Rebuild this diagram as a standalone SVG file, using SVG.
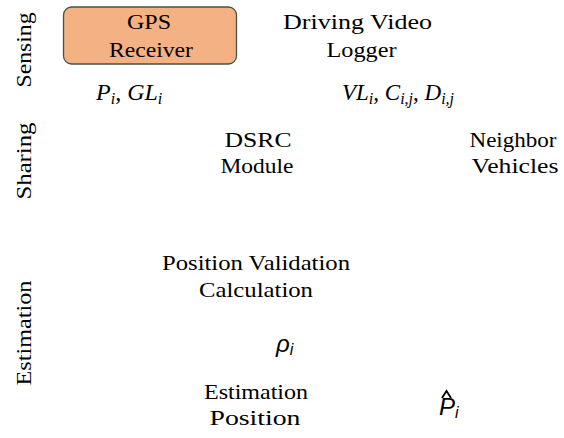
<svg xmlns="http://www.w3.org/2000/svg" width="564" height="438" viewBox="0 0 564 438" font-family="'Liberation Serif', 'Times New Roman', Times, serif">
  <style>
    text { font-family: 'Liberation Serif', 'Times New Roman', Times, serif; }
    .lbl { font-size: 21.5px; fill: #000; text-anchor: middle; }
    .math { font-style: italic; fill: #000; }
    .sub { font-size: 16px; }
    .smath { font-family: 'Liberation Sans', Arial, sans-serif; font-size: 24px; font-style: italic; fill: #000; }
    .box { fill: #F4B183; stroke: #3b5a46; stroke-width: 1.3; }
  </style>
  <rect width="564" height="438" fill="#fff"/>

  <g id="lane-labels">
    <text class="lbl" transform="translate(31,50) rotate(-90)" textLength="75" lengthAdjust="spacingAndGlyphs">Sensing</text>
    <text class="lbl" transform="translate(31,161) rotate(-90)" textLength="77" lengthAdjust="spacingAndGlyphs">Sharing</text>
    <text class="lbl" transform="translate(31,333) rotate(-90)" textLength="105" lengthAdjust="spacingAndGlyphs">Estimation</text>
  </g>

  <g id="connectors"></g>

  <g id="gps-receiver">
    <rect class="box" x="63.5" y="7" width="173" height="57" rx="8"/>
    <text class="lbl" x="149" y="29" textLength="44" lengthAdjust="spacingAndGlyphs">GPS</text>
    <text class="lbl" x="151" y="57" textLength="84" lengthAdjust="spacingAndGlyphs">Receiver</text>
  </g>

  <g id="video-logger">
    <text class="lbl" x="357.5" y="29" textLength="149" lengthAdjust="spacingAndGlyphs">Driving Video</text>
    <text class="lbl" x="361.5" y="57" textLength="70" lengthAdjust="spacingAndGlyphs">Logger</text>
  </g>

  <g id="gps-output">
    <text class="math" x="96" y="100" font-size="24">P<tspan class="sub" dy="4">i</tspan><tspan dy="-4">, GL</tspan><tspan class="sub" dy="4">i</tspan></text>
  </g>

  <g id="video-output">
    <text class="math" x="342" y="100" font-size="23">VL<tspan class="sub" dy="4">i</tspan><tspan dy="-4">, C</tspan><tspan class="sub" dy="4">i,j</tspan><tspan dy="-4">, D</tspan><tspan class="sub" dy="4">i,j</tspan></text>
  </g>

  <g id="dsrc-module">
    <text class="lbl" x="258" y="147" textLength="67" lengthAdjust="spacingAndGlyphs">DSRC</text>
    <text class="lbl" x="257" y="173" textLength="73" lengthAdjust="spacingAndGlyphs">Module</text>
  </g>

  <g id="neighbor-vehicles">
    <text class="lbl" x="513" y="147" textLength="87" lengthAdjust="spacingAndGlyphs">Neighbor</text>
    <text class="lbl" x="515" y="173" textLength="87" lengthAdjust="spacingAndGlyphs">Vehicles</text>
  </g>

  <g id="position-validation">
    <text class="lbl" x="256" y="270" textLength="188" lengthAdjust="spacingAndGlyphs">Position Validation</text>
    <text class="lbl" x="256" y="297" textLength="114" lengthAdjust="spacingAndGlyphs">Calculation</text>
  </g>

  <g id="rho-output">
    <text class="smath" x="276" y="352">ρ<tspan class="sub" dy="3">i</tspan></text>
  </g>

  <g id="estimation-position">
    <text class="lbl" x="256" y="399" textLength="104" lengthAdjust="spacingAndGlyphs">Estimation</text>
    <text class="lbl" x="255" y="425" textLength="91" lengthAdjust="spacingAndGlyphs">Position</text>
  </g>

  <g id="p-hat-output">
    <text class="smath" x="439" y="415">P<tspan class="sub" dy="3">i</tspan></text>
    <path d="M442,398 L446.5,391 L451,398" fill="none" stroke="#000" stroke-width="1.8"/>
  </g>
</svg>
